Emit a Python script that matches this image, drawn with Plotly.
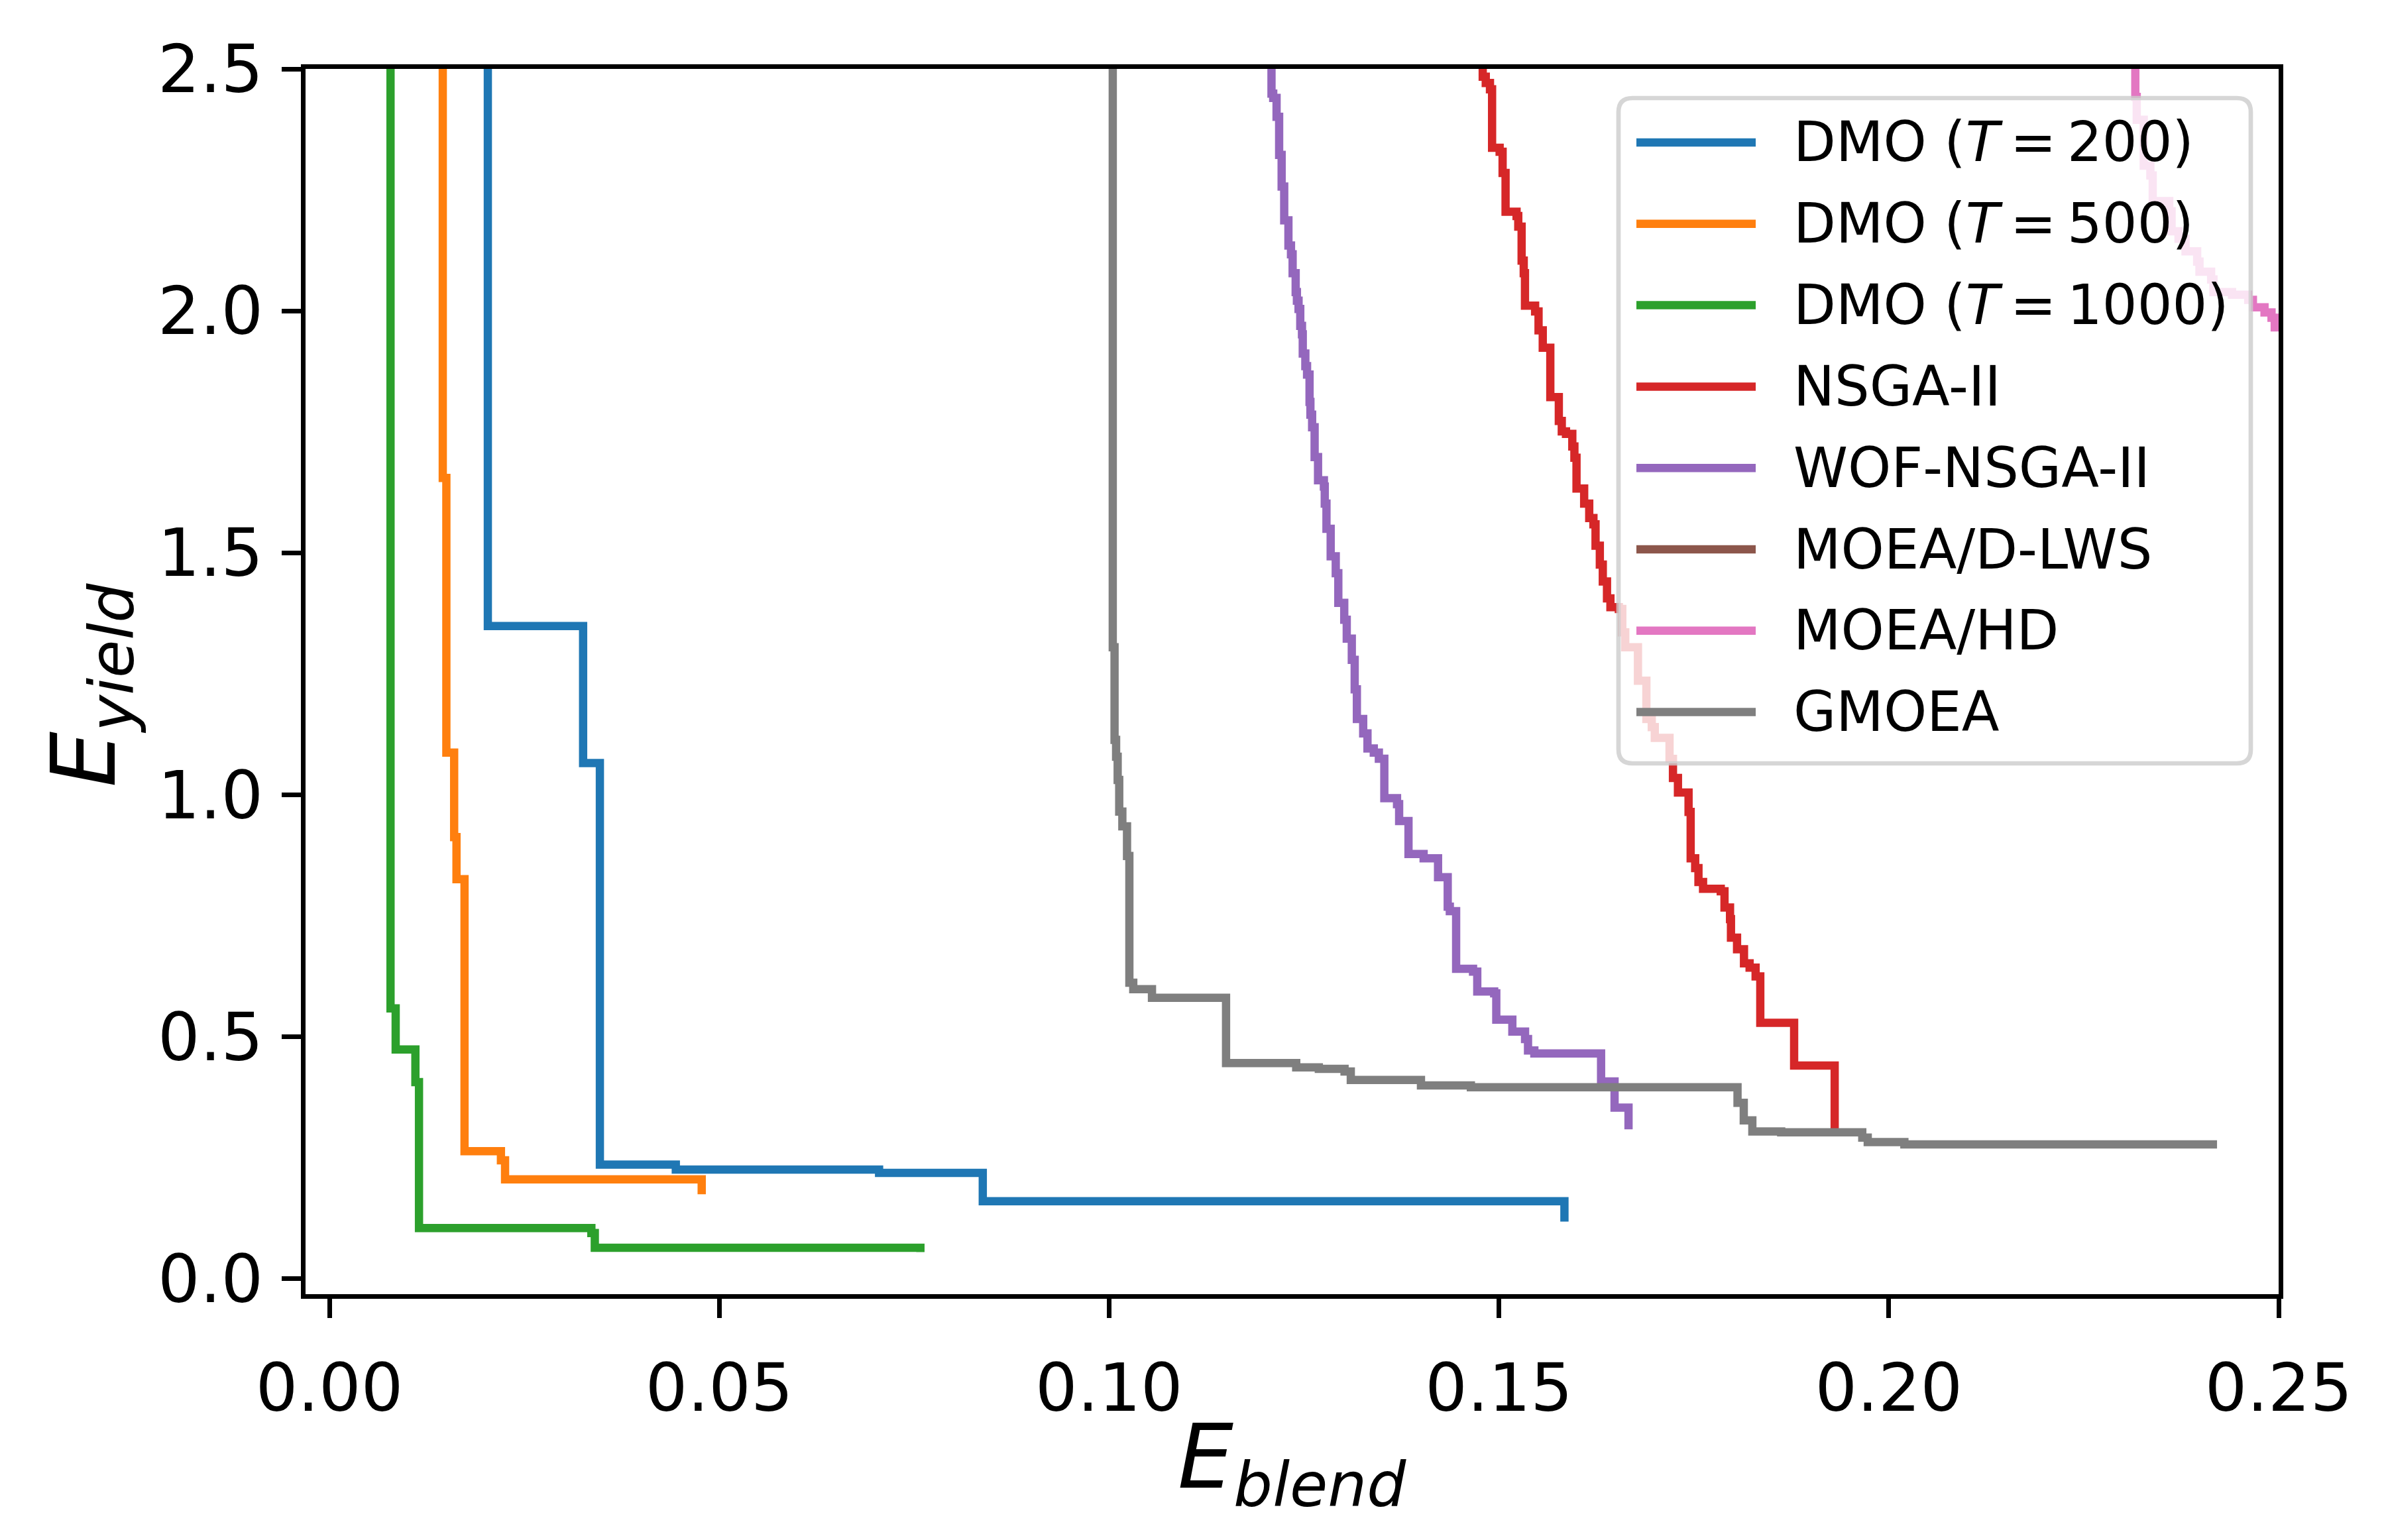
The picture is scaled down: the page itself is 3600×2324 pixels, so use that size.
import plotly.graph_objects as go

# ---------------- data ----------------
series_names = ["DMO (<i>T</i>\u2009=\u2009200)", "DMO (<i>T</i>\u2009=\u2009500)",
                "DMO (<i>T</i>\u2009=\u20091000)",
                "NSGA-II", "WOF-NSGA-II", "MOEA/D-LWS", "MOEA/HD", "GMOEA"]
series_colors = ["#1f77b4", "#ff7f0e", "#2ca02c", "#d62728", "#9467bd",
                 "#8c564b", "#e377c2", "#7f7f7f"]

dmo200_x = [0.02032, 0.02032, 0.03254, 0.03469, 0.04443, 0.0705, 0.0838, 0.1584]
dmo200_y = [3.0, 1.349, 1.066, 0.2363, 0.2259, 0.219, 0.1604, 0.1184]

dmo500_x = [0.01454, 0.01454, 0.0150, 0.0160, 0.0163, 0.01733, 0.0220, 0.02253, 0.04775]
dmo500_y = [3.0, 1.655, 1.0875, 0.913, 0.826, 0.264, 0.245, 0.2057, 0.175]

dmo1000_x = [0.00784, 0.00784, 0.0085, 0.01103, 0.01149, 0.0336, 0.03404, 0.0758]
dmo1000_y = [3.0, 0.559, 0.474, 0.4066, 0.105, 0.0949, 0.0643, 0.0556]

nsga2_x = [0.14792, 0.14792, 0.14831, 0.14885, 0.14912, 0.15009, 0.15047, 0.15085,
           0.15226, 0.15248, 0.15291, 0.15318, 0.15334, 0.15464, 0.15508, 0.15562,
           0.15659, 0.15768, 0.15806, 0.1586, 0.15941, 0.15968, 0.15995, 0.16093,
           0.16158, 0.16212, 0.16239, 0.16294, 0.16332, 0.16386, 0.1643, 0.16538,
           0.16582, 0.1662, 0.16783, 0.16891, 0.1696, 0.16999, 0.17188, 0.17232,
           0.17296, 0.17432, 0.17459, 0.17517, 0.17559, 0.17618, 0.17845, 0.17893,
           0.17964, 0.17976, 0.18054, 0.18143, 0.18215, 0.18292, 0.18352, 0.18786,
           0.19306]
nsga2_y = [3.0, 2.484, 2.471, 2.458, 2.337, 2.329, 2.285, 2.205,
           2.196, 2.174, 2.104, 2.078, 2.011, 1.999, 1.960, 1.924,
           1.822, 1.7725, 1.751, 1.746, 1.72, 1.6965, 1.633, 1.602,
           1.572, 1.559, 1.515, 1.476, 1.441, 1.406, 1.388, 1.384,
           1.336, 1.305, 1.236, 1.157, 1.14, 1.118, 1.0745, 1.035,
           1.005, 0.965, 0.869, 0.849, 0.820, 0.806, 0.801, 0.7675,
           0.7435, 0.705, 0.681, 0.652, 0.643, 0.625, 0.529, 0.441,
           0.307]

wof_x = [0.12083, 0.12083, 0.12105, 0.12148, 0.12181, 0.12213, 0.12246, 0.1230,
         0.12333, 0.12354, 0.12393, 0.12409, 0.1243, 0.12452, 0.12474, 0.12484,
         0.12517, 0.12539, 0.12571, 0.12582, 0.12604, 0.12636, 0.1268, 0.12755,
         0.12766, 0.12788, 0.12842, 0.12907, 0.1294, 0.13016, 0.13048, 0.13113,
         0.1315, 0.13178, 0.13259, 0.13314, 0.13395, 0.1346, 0.1353, 0.13693,
         0.1372, 0.1384, 0.14034, 0.14219, 0.14343, 0.1437, 0.14451, 0.14668,
         0.14722, 0.14939, 0.14966, 0.15172, 0.15335, 0.15373, 0.15454, 0.1631,
         0.16483, 0.16662]
wof_y = [3.0, 2.449, 2.440, 2.401, 2.3225, 2.257, 2.187, 2.135,
         2.117, 2.078, 2.039, 2.021, 2.004, 1.969, 1.9515, 1.912,
         1.886, 1.8686, 1.812, 1.7856, 1.7595, 1.698, 1.650, 1.637,
         1.602, 1.55, 1.493, 1.458, 1.397, 1.362, 1.323, 1.279,
         1.218, 1.157, 1.127, 1.096, 1.0875, 1.0746, 0.9933, 0.981,
         0.946, 0.878, 0.869, 0.830, 0.769, 0.760, 0.6406, 0.635,
         0.594, 0.590, 0.5358, 0.511, 0.4956, 0.472, 0.466, 0.408,
         0.354, 0.309]

lws_x = [0.262, 0.271, 0.284, 0.301]
lws_y = [2.95, 2.80, 2.70, 2.62]

hd_x = [0.23162, 0.23162, 0.2318, 0.2327, 0.23355, 0.23385, 0.23597, 0.23627,
        0.23716, 0.23806, 0.23955, 0.23985, 0.24134, 0.24164, 0.24402, 0.2461,
        0.2467, 0.24819, 0.24909, 0.2495, 0.2530]
hd_y = [3.0, 2.442, 2.395, 2.30, 2.28, 2.227, 2.206, 2.1645,
        2.149, 2.123, 2.102, 2.081, 2.065, 2.039, 2.0335, 2.023,
        2.0074, 1.997, 1.986, 1.966, 1.95]

gmoea_x = [0.10047, 0.10047, 0.1007, 0.1009, 0.1011, 0.1013, 0.1017, 0.1023,
           0.1026, 0.1031, 0.1055, 0.1150, 0.1240, 0.1269, 0.1302, 0.1310,
           0.1400, 0.1464, 0.1806, 0.1814, 0.1825, 0.1862, 0.1966, 0.1973,
           0.2020, 0.2421]
gmoea_y = [3.0, 1.305, 1.1137, 1.0789, 1.0308, 0.9654, 0.935, 0.8737,
           0.612, 0.5987, 0.581, 0.446, 0.437, 0.434, 0.4285, 0.411,
           0.3997, 0.396, 0.364, 0.3277, 0.3046, 0.303, 0.292, 0.2826,
           0.278, 0.278]

x_ticks = [0.00, 0.05, 0.10, 0.15, 0.20, 0.25]
x_tick_labels = ["0.00", "0.05", "0.10", "0.15", "0.20", "0.25"]
y_ticks = [0.0, 0.5, 1.0, 1.5, 2.0, 2.5]
y_tick_labels = ["0.0", "0.5", "1.0", "1.5", "2.0", "2.5"]

all_x = [dmo200_x, dmo500_x, dmo1000_x, nsga2_x, wof_x, lws_x, hd_x, gmoea_x]
all_y = [dmo200_y, dmo500_y, dmo1000_y, nsga2_y, wof_y, lws_y, hd_y, gmoea_y]

# ---------------- layout geometry (pixels) ----------------
W, H = 3600, 2324
L, R, T, B = 453, 3430, 96, 1945     # plot-area edges in pixels
FONT = "DejaVu Sans"
LW = 12.5


def px(X):
    return (X - L) / (R - L)


def py(Y):
    return (B - Y) / (B - T)


fig = go.Figure()
for xs, ys, name, col in zip(all_x, all_y, series_names, series_colors):
    fig.add_trace(go.Scatter(x=xs, y=ys, mode="lines", name=name,
                             line=dict(color=col, width=LW, shape="hv"),
                             showlegend=False))

axis_common = dict(showline=True, linewidth=6.7, linecolor="black", mirror=True,
                   ticks="outside", ticklen=29, tickwidth=6.7, tickcolor="black",
                   showgrid=False, zeroline=False,
                   tickfont=dict(family=FONT, size=100, color="black"))

fig.update_xaxes(range=[-0.00306, 0.25], tickvals=x_ticks, ticktext=x_tick_labels,
                 ticklabelstandoff=20, **axis_common)
fig.update_yaxes(range=[-0.0315, 2.5], tickvals=y_ticks, ticktext=y_tick_labels,
                 ticklabelstandoff=8, **axis_common)

shapes = []
annotations = []

# legend frame (rounded, semi-transparent)
fx0, fx1, fy0, fy1, rr = 2434, 3388, 140, 1144, 21
rx = rr / (R - L)
ry = rr / (B - T)
X0, X1, Y0, Y1 = px(fx0), px(fx1), py(fy0), py(fy1)   # Y0 top, Y1 bottom
path = (f"M{X0 + rx},{Y0} L{X1 - rx},{Y0} Q{X1},{Y0} {X1},{Y0 - ry} "
        f"L{X1},{Y1 + ry} Q{X1},{Y1} {X1 - rx},{Y1} L{X0 + rx},{Y1} "
        f"Q{X0},{Y1} {X0},{Y1 + ry} L{X0},{Y0 - ry} Q{X0},{Y0} {X0 + rx},{Y0} Z")
shapes.append(dict(type="path", path=path, xref="paper", yref="paper",
                   fillcolor="rgba(255,255,255,0.8)",
                   line=dict(color="rgba(204,204,204,0.8)", width=6.7),
                   layer="above"))

row0, drow = 207, 122.8
for i, (name, col) in enumerate(zip(series_names, series_colors)):
    yrow = row0 + i * drow
    shapes.append(dict(type="line", xref="paper", yref="paper",
                       x0=px(2461), x1=px(2641), y0=py(yrow), y1=py(yrow),
                       line=dict(color=col, width=LW), layer="above"))
    annotations.append(dict(text=name, xref="paper", yref="paper",
                            x=px(2696), y=py(yrow), xanchor="left", yanchor="middle",
                            showarrow=False,
                            font=dict(family=FONT, size=83, color="black")))

# axis labels
annotations.append(dict(text="<i>E</i><sub><i>blend</i></sub>", xref="paper", yref="paper",
                        x=px((L + R) / 2), y=py(2200), xanchor="center", yanchor="middle",
                        showarrow=False, font=dict(family=FONT, size=133, color="black")))
annotations.append(dict(text="<i>E</i><sub><i>yield</i></sub>", xref="paper", yref="paper",
                        x=px(128), y=py(1026), xanchor="center", yanchor="middle",
                        textangle=-90, showarrow=False,
                        font=dict(family=FONT, size=133, color="black")))

fig.update_layout(width=W, height=H,
                  margin=dict(l=L, r=W - R, t=T, b=H - B, autoexpand=False),
                  paper_bgcolor="white", plot_bgcolor="white",
                  shapes=shapes, annotations=annotations, showlegend=False)

fig.write_html("out.html")
